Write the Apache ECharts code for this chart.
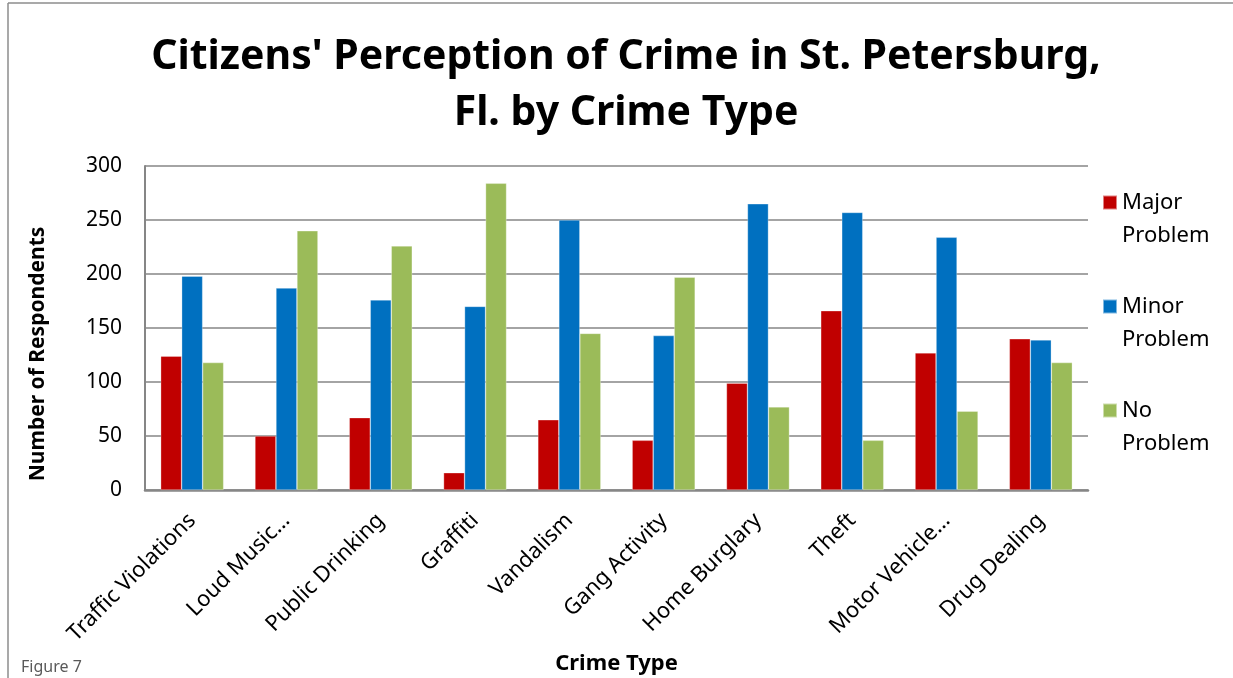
<!DOCTYPE html>
<html>
<head>
<meta charset="utf-8">
<script src="https://cdn.jsdelivr.net/npm/echarts@6/dist/echarts.min.js"></script>
<style>
html,body{margin:0;padding:0;background:#fff;}
#chart{width:1233px;height:678px;}
</style>
</head>
<body>
<div id="chart"></div>
<script>
const categories = ["Traffic Violations","Loud Music…","Public Drinking","Graffiti","Vandalism","Gang Activity","Home Burglary","Theft","Motor Vehicle…","Drug Dealing"];
const majorProblem = [124, 50, 67, 16, 65, 46, 99, 166, 127, 140];
const minorProblem = [198, 187, 176, 170, 250, 143, 265, 257, 234, 139];
const noProblem = [118, 240, 226, 284, 145, 197, 77, 46, 73, 118];
const seriesNames = ["Major Problem","Minor Problem","No Problem"];
const yTicks = {min: 0, max: 300, interval: 50};

const FONT = "Noto Sans";
const chart = echarts.init(document.getElementById('chart'), null, {renderer:'canvas'});
const mk = (name, data, color) => ({
  name, type:'bar', data, barWidth: 21, barGap: '0%',
  itemStyle:{color, borderColor:'rgba(255,255,255,0.5)', borderWidth:0.6},
  emphasis:{disabled:true}
});
chart.setOption({
  animation:false,
  backgroundColor:'#fff',
  title:{
    text:"Citizens' Perception of Crime in St. Petersburg,\nFl. by Crime Type",
    left: 621, top: 24, textAlign:'center',
    textStyle:{fontFamily:FONT, fontWeight:'bold', fontSize:41, lineHeight:56, color:'#000'}
  },
  legend:{
    orient:'vertical', left:1102, top:153, padding:0,
    itemWidth:14, itemHeight:14, itemGap:5, icon:'rect',
    data: seriesNames,
    formatter: n => '\n' + n.replace(' ', '\n'),
    textStyle:{fontFamily:FONT, fontSize:22, lineHeight:33, color:'#000'}
  },
  grid:{left:145, right:145, top:166, bottom:188, containLabel:false},
  xAxis:{
    type:'category', data:categories,
    name:'Crime Type', nameLocation:'middle', nameGap:163,
    nameTextStyle:{fontFamily:FONT, fontWeight:'bold', fontSize:22, color:'#000'},
    axisLine:{lineStyle:{color:'#868686', width:2.5}},
    axisTick:{show:false},
    axisLabel:{rotate:45, interval:0, margin:27, fontFamily:FONT, fontSize:22, color:'#000'}
  },
  yAxis:{
    type:'value', min:yTicks.min, max:yTicks.max, interval:yTicks.interval,
    axisLine:{show:true, lineStyle:{color:'#868686', width:2}},
    axisTick:{show:false},
    splitLine:{lineStyle:{color:'#868686', width:1.5}},
    axisLabel:{margin:23, fontFamily:FONT, fontSize:21, color:'#000'}
  },
  graphic:[
    {type:'line', shape:{x1:8, y1:3, x2:1233, y2:3}, style:{stroke:'#8c8c8c', lineWidth:1.5}, silent:true},
    {type:'line', shape:{x1:8, y1:3, x2:8, y2:678}, style:{stroke:'#8c8c8c', lineWidth:1.5}, silent:true},
    {type:'text', x:38, y:354, rotation:Math.PI/2,
     style:{text:'Number of Respondents', fontFamily:FONT, fontWeight:'bold', fontSize:21, fill:'#000', align:'center', verticalAlign:'middle'}},
    {type:'text', x:21, y:667,
     style:{text:'Figure 7', fontFamily:FONT, fontSize:16, fill:'#595959', align:'left', verticalAlign:'middle'}}
  ],
  series:[
    mk(seriesNames[0], majorProblem, '#C00000'),
    mk(seriesNames[1], minorProblem, '#0070C0'),
    mk(seriesNames[2], noProblem, '#9BBB59')
  ]
});
</script>
</body>
</html>
